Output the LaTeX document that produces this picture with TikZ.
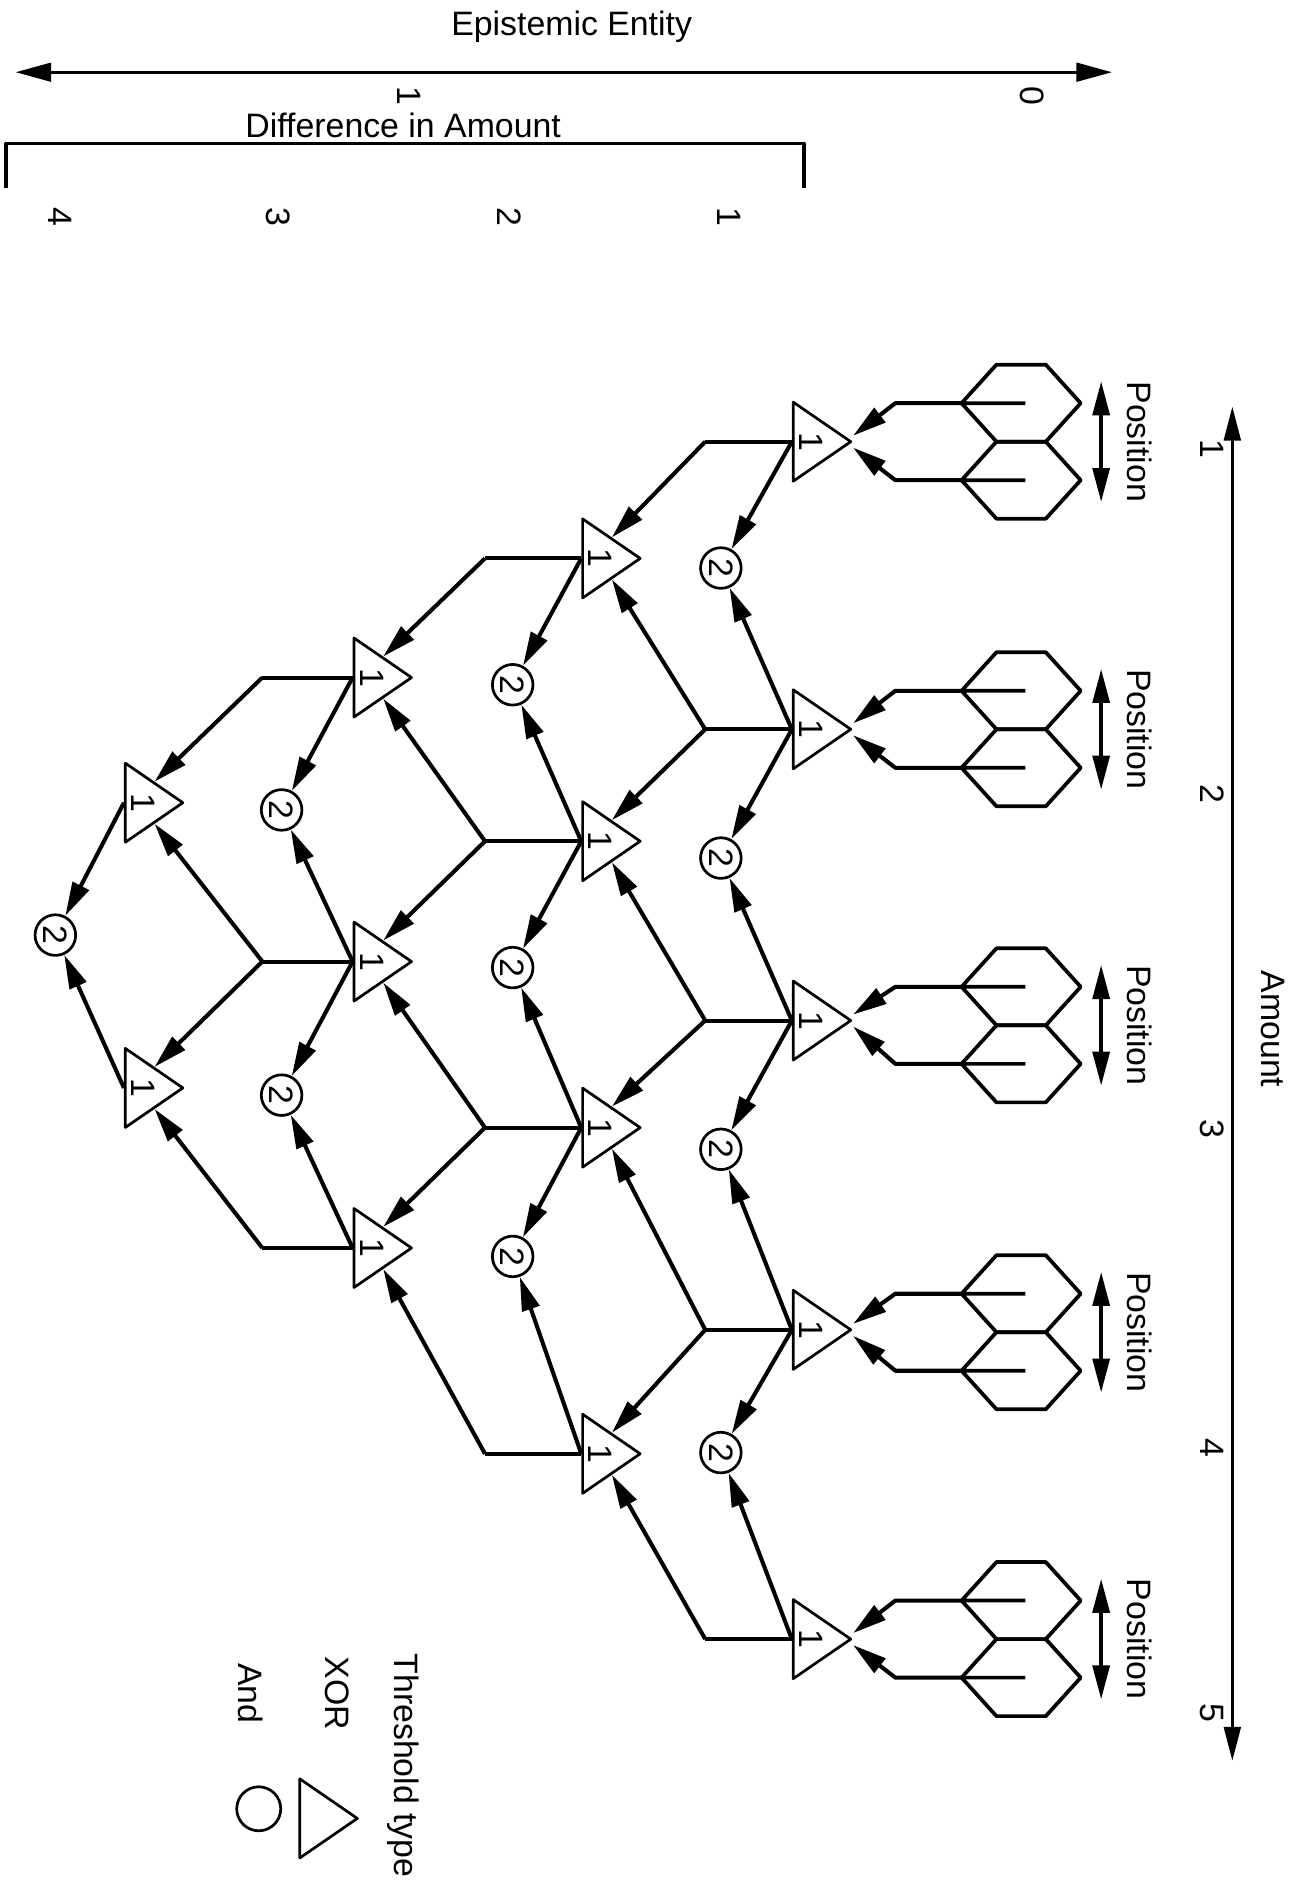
\documentclass[tikz,border=0pt]{standalone}
\usepackage{fontspec}
\setmainfont{Liberation Sans}
\usepackage{tikz}
\usetikzlibrary{calc, arrows.meta, shapes.geometric}

\newcommand{\lblfont}{\fontsize{20}{24}\selectfont}

\begin{document}
\begin{tikzpicture}[x=0.025cm, y=-0.025cm, line join=round,
                every node/.style={font=\lblfont, inner sep=0pt},
                vtext/.style={rotate=-90},
                xorgate/.style={isosceles triangle, isosceles triangle apex angle=69, draw,
                    line width=1.6pt, inner sep=1pt, minimum width=34pt, minimum height=34pt, anchor=west},
                andgate/.style={circle, draw, line width=1.6pt, minimum size=24pt, rotate=-90},
                wire/.style={line width=2.4pt},
                feed/.style={wire, -{Triangle[length=20pt, width=10.5pt]}},
                hexline/.style={line width=2.2pt},
                bracket/.style={line width=2pt},
                axisline/.style={line width=1.8pt, {Triangle[length=21pt, width=11pt]}-{Triangle[length=21pt, width=11pt]}},
                amtline/.style={line width=1.5pt, {Triangle[length=20pt, width=10pt]}-{Triangle[length=20pt, width=10pt]}},
                posline/.style={line width=2pt, {Triangle[length=20pt, width=10pt]}-{Triangle[length=20pt, width=10pt]}}]
                \useasboundingbox (0,0) rectangle (1082,1568);

                \node (ee) at (475,22) {Epistemic Entity};
                \coordinate (eeL) at (13,60);
                \coordinate (eeR) at (924,60);
                \draw[axisline] (eeL) -- (eeR);
                \node[vtext] (ee1) at (340,80) {1};
                \node[vtext] (ee0) at (858,80) {0};
                \node (dif) at (335,104) {Difference in Amount};
                \coordinate (bkL) at (5,156);
                \coordinate (bkR) at (668,156);
                \draw[bracket] (bkL) -- ++(0,-37) -| (bkR);
                \foreach \k/\x in {4/50, 3/231, 2/423, 1/606}
                    \node[vtext] (dif\k) at (\x,180) {\k};

                \coordinate (amtT) at (1024,338);
                \coordinate (amtB) at (1024,1463);
                \draw[amtline] (amtT) -- (amtB);
                \foreach \k/\y in {1/373, 2/660, 3/938, 4/1203, 5/1423}
                    \node[vtext] (amt\k) at (1007,\y) {\k};
                \node[vtext] (amt) at (1058,855) {Amount};

                \foreach \i/\y in {1/367, 2/606, 3/848, 4/1105, 5/1362}
                    \node[xorgate] (A\i) at (658,\y) {};
                \foreach \i/\y in {1/464, 2/699, 3/937, 4/1208}
                    \node[xorgate] (B\i) at (483,\y) {};
                \foreach \i/\y in {1/563, 2/799, 3/1037}
                    \node[xorgate] (C\i) at (293,\y) {};
                \foreach \i/\y in {1/667, 2/904}
                    \node[xorgate] (D\i) at (103,\y) {};
                \foreach \t in {A1,A2,A3,A4,A5,B1,B2,B3,B4,C1,C2,C3,D1,D2}
                    \node[vtext] (n\t) at ($(\t.west)+(16,0)$) {1};

                \foreach \i/\y in {1/472, 2/713, 3/955, 4/1207}
                    \node[andgate] (a\i) at (599,\y) {2};
                \foreach \i/\y in {1/569, 2/804, 3/1044}
                    \node[andgate] (b\i) at (426,\y) {2};
                \foreach \i/\y in {1/673, 2/910}
                    \node[andgate] (c\i) at (234,\y) {2};
                \node[andgate] (d1) at (46,777) {2};

                \foreach \c/\n/\len in {A/5/72, B/4/80, C/3/75}
                    \foreach \i in {1,...,\n}
                        \draw[wire] (\c\i.west) -- ++(-\len,0) coordinate (j\c\i);
                \foreach \c/\nx/\n in {A/B/4, B/C/3, C/D/2}
                    \foreach \m in {1,...,\n} {
                        \pgfmathtruncatemacro{\k}{\m+1}
                        \draw[feed] (j\c\k) -- (\nx\m.right side);
                        \draw[feed] (j\c\m) -- (\nx\m.left side);
                    }
                \foreach \c/\o/\n in {A/a/4, B/b/3, C/c/2, D/d/1}
                    \foreach \i in {1,...,\n} {
                        \pgfmathtruncatemacro{\k}{\i+1}
                        \draw[feed] (\c\i.west) -- (\o\i);
                        \draw[feed] (\c\k.west) -- (\o\i);
                    }

                \foreach \g/\y in {1/367, 2/606, 3/852, 4/1107, 5/1362} {
                    \coordinate (hu\g) at (799,\y-32);
                    \coordinate (hl\g) at (799,\y+32);
                    \foreach \h in {hu\g, hl\g}
                        \draw[hexline] (\h) -- ++(29,-32) -- ++(41,0) -- ++(29,32) -- ++(-29,32) -- ++(-41,0) -- cycle
                            (\h) -- ++(53,0);
                    \draw[feed] (hu\g) -- ++(-55,0) -- ($(A\g.apex)+(0,-5)$);
                    \draw[feed] (hl\g) -- ++(-55,0) -- ($(A\g.apex)+(0,5)$);
                    \coordinate (pt\g) at (915,\y-50);
                    \coordinate (pb\g) at (915,\y+50);
                    \draw[posline] (pt\g) -- (pb\g);
                    \node[vtext] (pos\g) at (947,\y) {Position};
                }

                \node[vtext] (thr) at (335,1467) {Threshold type};
                \node[vtext] (xorkey) at (280,1407) {XOR};
                \node[vtext] (andkey) at (208,1407) {And};
                \node[xorgate] (xorsym) at (248,1511) {};
                \node[andgate, minimum size=26pt] (andsym) at (215,1503) {};
\end{tikzpicture}
\end{document}
